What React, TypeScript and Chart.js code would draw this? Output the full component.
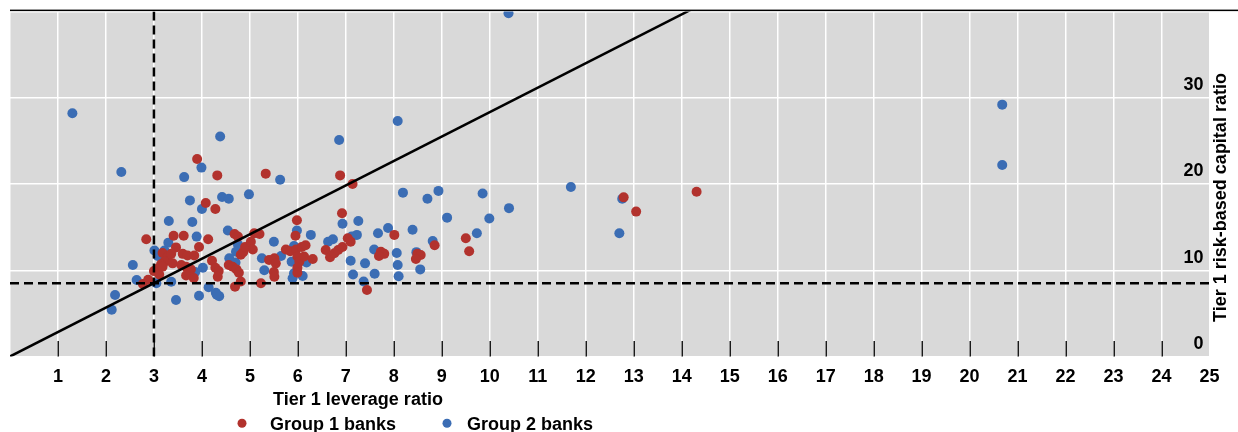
import React, { useEffect, useRef } from "react";
import { Chart, registerables } from "chart.js";

Chart.register(...registerables);

// ---- Data ----
const seriesNames = ["Group 1 banks", "Group 2 banks"];
const seriesColors = ["#b2322d", "#3b6db4"];
const xTitle = "Tier 1 leverage ratio";
const yTitle = "Tier 1 risk-based capital ratio";
const xRange = [0, 25];
const yRange = [0, 40];
const leverageMinimum = 3;
const riskBasedMinimum = 8.5;

// [Tier 1 leverage ratio, Tier 1 risk-based capital ratio]
const group1Banks: [number, number][] = [
  [3.90, 22.9], [4.32, 21.0], [5.33, 21.2], [6.88, 21.0], [7.14, 20.0],
  [4.08, 17.8], [4.28, 17.1], [6.92, 16.6], [5.98, 15.8], [12.79, 18.45],
  [13.05, 16.8], [14.31, 19.1], [9.50, 13.7], [9.57, 12.2], [8.01, 14.1],
  [7.44, 7.7], [2.84, 13.6], [2.77, 8.4], [2.88, 8.9], [3.41, 14.0],
  [3.62, 14.0], [4.13, 13.6], [3.94, 12.7], [3.46, 12.65], [3.18, 12.0],
  [3.29, 11.6], [3.36, 11.9], [3.22, 11.0], [3.15, 10.7], [3.08, 10.2],
  [3.00, 9.9], [3.11, 9.5], [3.18, 10.4], [3.39, 10.8], [3.60, 11.9],
  [3.70, 11.7], [3.84, 11.7], [3.57, 10.6], [3.67, 10.4], [3.77, 10.1],
  [3.72, 9.8], [3.67, 9.4], [3.83, 9.1], [4.21, 11.1], [4.28, 10.3],
  [4.35, 9.9], [4.33, 9.25], [4.56, 10.6], [4.64, 10.4], [4.72, 10.1],
  [4.77, 9.7], [4.81, 8.7], [4.69, 8.1], [4.81, 11.8], [4.86, 12.1],
  [4.90, 12.7], [4.68, 14.2], [4.75, 13.9], [5.02, 13.3], [5.09, 14.3],
  [5.20, 14.2], [5.06, 12.4], [5.23, 8.5], [5.40, 11.2], [5.51, 11.4],
  [5.54, 10.8], [5.50, 9.8], [5.51, 9.25], [5.75, 12.4], [5.84, 12.2],
  [5.96, 12.4], [6.08, 12.7], [6.16, 12.9], [5.95, 14.0], [5.99, 11.6],
  [6.03, 11.0], [5.99, 10.3], [5.99, 9.7], [6.13, 11.6], [6.31, 11.3],
  [6.58, 12.35], [6.67, 11.5], [6.76, 11.97], [6.84, 12.35], [6.93, 12.7],
  [7.04, 13.7], [7.10, 13.3], [7.73, 12.15], [7.80, 11.9], [7.69, 11.65],
  [8.49, 11.9], [8.56, 11.77], [8.46, 11.3], [8.85, 12.9],
];

const group2Banks: [number, number][] = [
  [1.30, 28.2], [2.32, 21.4], [4.38, 25.5], [3.99, 21.9], [3.63, 20.8],
  [5.63, 20.5], [6.86, 25.1], [8.08, 27.3], [8.19, 19.0], [10.39, 39.8],
  [20.68, 29.2], [20.68, 22.2], [11.69, 19.65], [12.76, 18.3], [12.70, 14.3],
  [9.85, 18.9], [8.70, 18.3], [8.93, 19.2], [9.11, 16.1], [9.99, 16.0],
  [10.40, 17.2], [9.73, 14.3], [3.75, 18.1], [4.42, 18.5], [4.56, 18.3],
  [4.98, 18.8], [4.00, 17.1], [3.31, 15.7], [3.80, 15.6], [4.54, 14.6],
  [3.89, 13.9], [3.30, 13.2], [7.26, 15.7], [6.93, 15.4], [5.98, 14.6],
  [6.27, 14.1], [5.50, 13.3], [7.23, 14.1], [7.12, 13.9], [7.67, 14.3],
  [7.88, 14.9], [8.39, 14.7], [6.63, 13.3], [6.73, 13.6], [8.81, 13.4],
  [3.01, 12.3], [3.22, 12.3], [3.08, 11.65], [4.75, 13.0], [4.71, 12.15],
  [4.57, 11.4], [4.70, 10.9], [5.25, 11.4], [5.65, 11.65], [5.92, 12.8],
  [5.87, 11.0], [6.18, 10.9], [7.59, 12.4], [8.06, 12.0], [8.47, 12.1],
  [7.10, 11.1], [7.40, 10.8], [8.08, 10.6], [8.55, 10.1], [2.56, 10.6],
  [2.64, 8.87], [4.02, 10.3], [3.86, 9.8], [5.30, 10.0], [7.15, 9.5],
  [7.60, 9.6], [8.10, 9.3], [5.92, 9.65], [5.89, 9.07], [6.10, 9.33],
  [7.37, 8.7], [3.05, 8.49], [3.36, 8.67], [4.14, 8.02], [4.29, 7.4],
  [4.36, 7.0], [4.31, 7.15], [3.94, 7.05], [3.46, 6.55], [2.19, 7.13],
  [2.12, 5.43],
];

const FONT_FAMILY = '"Liberation Sans", Arial, Helvetica, sans-serif';
const FONT = "bold 18px " + FONT_FAMILY;

const toPoints = (arr: [number, number][]) => arr.map(([x, y]) => ({ x, y }));

const decorPlugin = {
  id: "decor",
  beforeDraw(chart: any) {
    const { ctx, chartArea: a } = chart;
    ctx.save();
    ctx.fillStyle = "#d9d9d9";
    ctx.fillRect(a.left, a.top, a.right - a.left, a.bottom - a.top);
    ctx.restore();
  },
  beforeDatasetsDraw(chart: any) {
    const { ctx, chartArea: a } = chart;
    const xs = chart.scales.x;
    ctx.save();
    ctx.strokeStyle = "#1a1a1a";
    ctx.lineWidth = 1.5;
    ctx.beginPath();
    for (let v = xRange[0] + 1; v < xRange[1]; v++) {
      const px = Math.round(xs.getPixelForValue(v)) + 0.25;
      ctx.moveTo(px, a.bottom - 15.5);
      ctx.lineTo(px, a.bottom);
    }
    ctx.stroke();
    ctx.restore();
  },
  afterDraw(chart: any) {
    const { ctx, chartArea: a } = chart;
    ctx.save();
    // top rule
    ctx.fillStyle = "#000";
    ctx.fillRect(a.left, 9.6, chart.width - a.left, 1.5);

    ctx.font = FONT;
    ctx.fillStyle = "#000";
    ctx.textBaseline = "alphabetic";

    // x-axis title
    ctx.textAlign = "center";
    ctx.fillText(xTitle, 358, 405);

    // y-axis title (reads bottom to top)
    ctx.save();
    ctx.translate(1226, 197.5);
    ctx.rotate(-Math.PI / 2);
    ctx.textAlign = "center";
    ctx.fillText(yTitle, 0, 0);
    ctx.restore();

    // legend
    const legendItems = [
      { dot: 242, text: 270 },
      { dot: 447, text: 467 },
    ];
    legendItems.forEach((it, i) => {
      ctx.fillStyle = seriesColors[i];
      ctx.beginPath();
      ctx.arc(it.dot, 423.3, 4.5, 0, Math.PI * 2);
      ctx.fill();
      ctx.fillStyle = "#000";
      ctx.textAlign = "left";
      ctx.fillText(seriesNames[i], it.text, 430);
    });
    ctx.restore();
  },
};

export default function App() {
  const canvasRef = useRef<HTMLCanvasElement | null>(null);

  useEffect(() => {
    document.body.style.margin = "0";
    const canvas = canvasRef.current;
    if (!canvas) return;
    const slope = riskBasedMinimum / leverageMinimum;
    const lineEndX = 15;

    const chart = new Chart(canvas, {
      type: "scatter",
      data: {
        datasets: [
          {
            type: "line",
            label: "ratio-equivalence",
            data: [
              { x: 0, y: 0 },
              { x: lineEndX, y: slope * lineEndX },
            ],
            borderColor: "#000",
            borderWidth: 2.5,
            pointRadius: 0,
            fill: false,
            order: 0,
            clip: 0,
          } as any,
          {
            type: "line",
            label: "leverage-minimum",
            data: [
              { x: leverageMinimum, y: yRange[0] },
              { x: leverageMinimum, y: yRange[1] },
            ],
            borderColor: "#000",
            borderWidth: 2.5,
            borderDash: [9, 5],
            pointRadius: 0,
            fill: false,
            order: 0,
            clip: 0,
          } as any,
          {
            type: "line",
            label: "risk-based-minimum",
            data: [
              { x: xRange[0], y: riskBasedMinimum },
              { x: xRange[1], y: riskBasedMinimum },
            ],
            borderColor: "#000",
            borderWidth: 2.5,
            borderDash: [9, 5],
            pointRadius: 0,
            fill: false,
            order: 0,
            clip: 0,
          } as any,
          {
            label: seriesNames[0],
            data: toPoints(group1Banks),
            backgroundColor: seriesColors[0],
            borderColor: seriesColors[0],
            borderWidth: 0,
            pointRadius: 5,
            order: 1,
            clip: 0,
          } as any,
          {
            label: seriesNames[1],
            data: toPoints(group2Banks),
            backgroundColor: seriesColors[1],
            borderColor: seriesColors[1],
            borderWidth: 0,
            pointRadius: 5,
            order: 2,
            clip: 0,
          } as any,
        ],
      },
      options: {
        responsive: false,
        animation: false,
        devicePixelRatio: 1,
        layout: { padding: { top: 11.5, left: 8.5, right: 0, bottom: 0 } },
        plugins: {
          legend: { display: false },
          tooltip: { enabled: false },
          title: { display: false },
        },
        scales: {
          x: {
            type: "linear",
            min: xRange[0],
            max: xRange[1],
            border: { display: false },
            grid: { color: "#ffffff", lineWidth: 1.5, drawTicks: false },
            ticks: {
              stepSize: 1,
              autoSkip: false,
              maxRotation: 0,
              padding: 10,
              color: "#000",
              font: { family: FONT_FAMILY, size: 18, weight: "bold" },
              callback: (v: any) => (v === xRange[0] ? "" : String(v)),
            },
            afterFit: (scale: any) => {
              scale.height = 75.5;
            },
          },
          y: {
            type: "linear",
            position: "right",
            min: yRange[0],
            max: yRange[1],
            border: { display: false },
            grid: { color: "#ffffff", lineWidth: 1.5, drawTicks: false },
            ticks: {
              stepSize: 10,
              mirror: true,
              padding: -6,
              labelOffset: -12.5,
              color: "#000",
              font: { family: FONT_FAMILY, size: 18, weight: "bold" },
              callback: (v: any) => (v === yRange[1] ? "" : String(v)),
            },
            afterFit: (scale: any) => {
              scale.width = 28.5;
            },
          },
        },
      } as any,
      plugins: [decorPlugin],
    });
    return () => chart.destroy();
  }, []);

  return (
    <div style={{ width: 1238, height: 432, position: "relative" }}>
      <canvas ref={canvasRef} width={1238} height={432} style={{ display: "block" }} />
    </div>
  );
}
